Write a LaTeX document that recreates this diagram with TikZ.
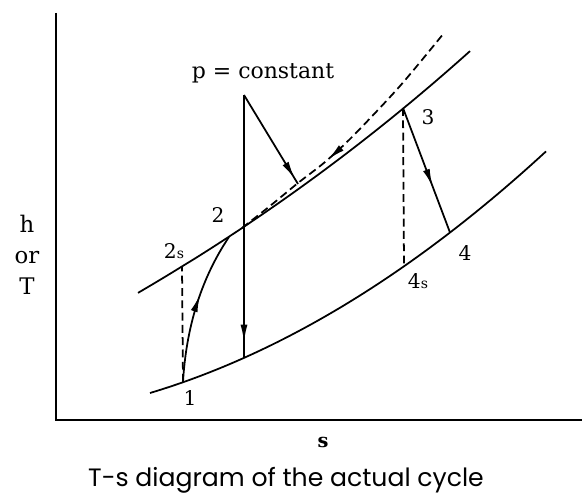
\documentclass[tikz,border=0pt]{standalone}
\usepackage{fontspec}
\setmainfont{DejaVu Serif}
\newfontfamily\capfont{Poppins}
\usetikzlibrary{arrows.meta,decorations.markings}
\tikzset{
  curve/.style={line width=1pt},
  axis/.style={line width=1.3pt},
  dashline/.style={line width=1pt, dash pattern=on 4.5pt off 2.5pt},
  lbl/.style={inner sep=0pt, font=\fontsize{11.5}{13}\selectfont},
  midarrow/.style={postaction={decorate},decoration={markings,mark=at position #1 with {\arrow{Latex[length=10pt,width=4pt]}}}},
  midarrowrev/.style={postaction={decorate},decoration={markings,mark=at position #1 with {\arrowreversed{Latex[length=10pt,width=4pt]}}}}
}
\begin{document}
\begin{tikzpicture}[x=0.02cm,y=-0.02cm]
\useasboundingbox (0,0) rectangle (582,500);
% key points
\coordinate (O) at (56,420);
\coordinate (Ytop) at (56,13);
\coordinate (Xend) at (582,420);
\coordinate (P1) at (183,382);
\coordinate (P2) at (242,228);
\coordinate (P2s) at (182,266);
\coordinate (P2e) at (229,237);
\coordinate (P3) at (403,108);
\coordinate (P4) at (450,232.5);
\coordinate (P4s) at (404,266);
\coordinate (Top) at (244,95);
\coordinate (Low) at (244,358);
\coordinate (Up) at (298,184);
% axes
\draw[axis] (Ytop) -- (O) -- (Xend);
% high pressure line
\draw[curve] plot[domain=138:470, samples=60] (\x, {261.6-480.8*(exp(0.0013*(\x-190))-1)});
% low pressure line
\draw[curve] plot[domain=150:546, samples=60] (\x, {393-0.30*(\x-150)-7.83*((\x-150)/100)^2});
% dashed constant-pressure line
\draw[dashline, midarrowrev=0.39] plot[smooth] coordinates {(242,228) (270,206) (298,183) (325,162) (353,136) (400,86) (444,33)};
% isentropic lines
\draw[dashline] (P1) -- (P2s);
\draw[dashline] (P3) -- (P4s);
% actual compression
\draw[curve, midarrow=0.58] (P1) .. controls (186,330) and (200,280) .. (P2e);
% actual expansion
\draw[curve, midarrow=0.63] (P3) -- (P4);
% pointer lines
\draw[curve, midarrow=0.94] (Top) -- (Low);
\draw[curve, midarrow=0.94] (Top) -- (Up);
% labels
\node[lbl, font=\fontsize{12.5}{14}\selectfont] (lp) at (263,73) {p = constant};
\node[lbl] (l3) at (428,117) {3};
\node[lbl] (l2) at (218,215) {2};
\node[lbl] (l2s) at (174,251) {2{\fontsize{8}{9}\selectfont s}};
\node[lbl] (l4) at (465,253) {4};
\node[lbl] (l4s) at (418,281) {4{\fontsize{8}{9}\selectfont s}};
\node[lbl] (l1) at (190,398) {1};
\node[inner sep=0pt, font=\fontsize{13}{15}\selectfont] (lh) at (27,224) {h};
\node[inner sep=0pt, font=\fontsize{13}{15}\selectfont] (lor) at (27,258) {or};
\node[inner sep=0pt, font=\fontsize{13}{15}\selectfont] (lT) at (27,286) {T};
\node[inner sep=0pt, font=\fontsize{11}{13}\selectfont\bfseries] (ls) at (323,442) {s};
\node[inner sep=0pt, font=\capfont\fontsize{14.3}{16}\selectfont] (cap) at (286,480) {T-s diagram of the actual cycle};
\end{tikzpicture}
\end{document}
